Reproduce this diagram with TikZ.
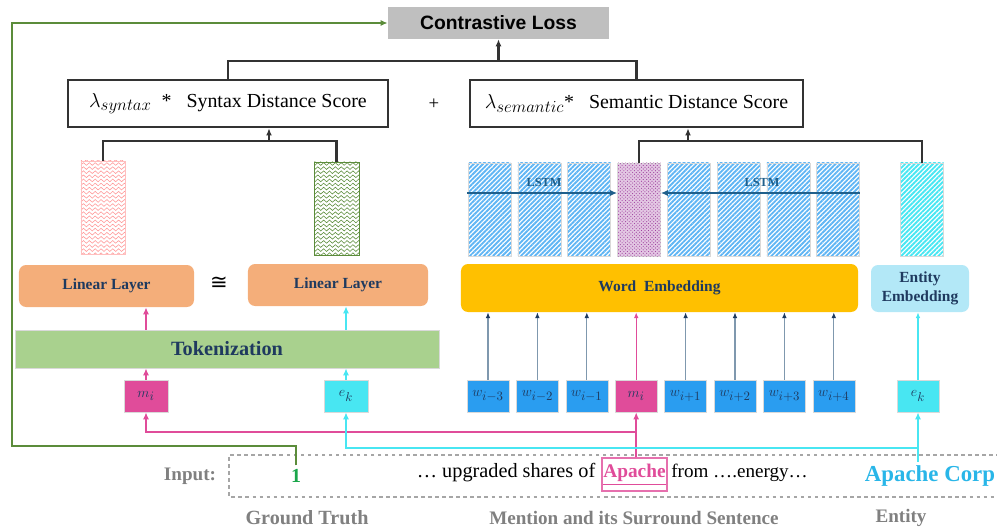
\documentclass[tikz,border=0pt]{standalone}
\usepackage{fontspec}
\setmainfont{Liberation Serif}
\newfontfamily\lossfont{Liberation Sans}
\newfontfamily\symfont{DejaVu Sans}
\DeclareMathSizes{13}{13}{10.5}{8}
\DeclareMathSizes{19}{19}{14}{11}
\usepackage{tikz}
\usetikzlibrary{positioning,arrows.meta,patterns,patterns.meta}
\definecolor{navytxt}{HTML}{1F3A5F}
\definecolor{pinkc}{HTML}{E04C9A}
\definecolor{cyanc}{HTML}{48E6F2}
\definecolor{bluec}{HTML}{2A9DF0}
\definecolor{orangec}{HTML}{F4AE7A}
\definecolor{tokc}{HTML}{A9D18E}
\definecolor{wordc}{HTML}{FFC000}
\definecolor{entc}{HTML}{B3E8F7}
\definecolor{greenl}{HTML}{5B8C3A}
\definecolor{greent}{HTML}{1AA64A}
\definecolor{grayt}{HTML}{808080}
\definecolor{corpc}{HTML}{29B6E8}
\definecolor{lstmc}{HTML}{1F5F8B}
\definecolor{thinc}{HTML}{7F98AE}
\tikzdeclarepattern{
  name=wavy,
  type=uncolored,
  bottom left={(-.1pt,-.1pt)},
  top right={(5.1pt,3.6pt)},
  tile size={(5pt,3.5pt)},
  code={\draw[line width=.5pt] (0pt,1.75pt) sin (1.25pt,2.9pt) cos (2.5pt,1.75pt) sin (3.75pt,.6pt) cos (5pt,1.75pt);}
}

\begin{document}
\begin{tikzpicture}[x=0.03cm,y=-0.03cm,
  score/.style={draw=black!80,line width=2.2pt,minimum width=9.6cm,minimum height=1.41cm,inner sep=0pt,font=\fontsize{17}{18}\selectfont},
  layer/.style={rounded corners=6pt,inner sep=0pt,minimum height=1.26cm,text=navytxt,font=\bfseries\fontsize{13.2}{16}\selectfont},
  vec/.style={inner sep=0pt,minimum width=1.29cm,minimum height=2.79cm},
  stripes/.style={pattern={Lines[angle=45,distance=2.8pt,line width=1.6pt]}},
  wordbox/.style={inner sep=0pt,minimum width=1.26cm,minimum height=0.96cm,draw=white!85!black,line width=.4pt,text=navytxt,font=\fontsize{13}{14}\selectfont},
  link/.style={draw=black!80,line width=2.2pt},
  up/.style={-{Latex[length=6pt,width=5pt]}},
  feed/.style={thinc,line width=1pt,-{Latex[length=5pt,width=4pt,color=navytxt]}},
  foot/.style={text=grayt,font=\bfseries\fontsize{16.3}{19}\selectfont}]
\useasboundingbox (0,0) rectangle (997,531);

\node[fill=black!25,minimum width=6.63cm,minimum height=0.96cm,inner sep=0pt,font=\lossfont\bfseries\fontsize{16.5}{18}\selectfont] (loss) at (498.5,23) {Contrastive Loss};
\node[score] (syn) at (228,103.5) {{\fontsize{19}{20}\selectfont$\lambda_{syntax}$}\enspace * \enspace Syntax Distance Score};
\node[score,minimum width=9.99cm] (sem) at (636.5,103.5) {{\fontsize{19}{20}\selectfont$\lambda_{semantic}$}*\enspace\ Semantic Distance Score};
\node[font=\fontsize{16}{18}\selectfont] (plus) at (434,104) {+};

\node[vec,minimum width=1.32cm,draw=red!25,pattern=wavy,pattern color=red!40] (hm) at (103,207.5) {};
\node[vec,minimum width=1.35cm,draw=greenl,pattern=wavy,pattern color=greenl] (he) at (336.5,208.5) {};
\node[layer,fill=orangec,minimum width=5.25cm] (lin1) at (106.5,286) {Linear Layer};
\node[layer,fill=orangec,minimum width=5.4cm] (lin2) at (338,285) {Linear Layer};
\node[inner sep=0pt,font=\symfont\fontsize{18}{20}\selectfont] (approx) at (219,283) {≅};
\node[fill=tokc,draw=white!85!black,inner sep=0pt,minimum width=12.72cm,minimum height=1.14cm,text=navytxt,font=\bfseries\fontsize{17.3}{19}\selectfont] (tokn) at (227,349) {Tokenization};
\node[wordbox,minimum width=1.32cm,fill=pinkc] (m1) at (146,396) {$m_i$};
\node[wordbox,minimum width=1.32cm,fill=cyanc] (e1) at (346,396) {$e_k$};

\foreach \k/\s in {0/{i-3},1/{i-2},2/{i-1},4/{i+1},5/{i+2},6/{i+3},7/{i+4}}{
  \node[wordbox,fill=bluec] (w\k) at (488+49.4*\k,396) {$w_{\s}$};
  \node[vec,draw=white!85!black,stripes,pattern color=bluec!75] (b\k) at (489.5+49.8*\k,209.5) {};
}
\node[wordbox,fill=pinkc] (w3) at (636.2,396) {$m_i$};
\node[vec,fill=violet!22,draw=white!85!black,postaction={pattern=crosshatch dots,pattern color=violet!75}] (b3) at (639,209.5) {};
\node[wordbox,fill=cyanc] (e2) at (918,396) {$e_k$};
\node[vec,draw=white!85!black,stripes,pattern color=cyanc] (be) at (922,209.5) {};
\node[layer,fill=wordc,minimum width=11.91cm,minimum height=1.44cm] (we) at (659.5,288) {Word\ \ Embedding};
\node[layer,fill=entc,minimum width=2.94cm,minimum height=1.41cm,align=center] (ee) at (920,288.5) {Entity\\Embedding};

\coordinate (lstmy) at (0,193);
\draw[lstmc,line width=1.6pt,-{Latex[length=6pt,width=5pt]}] (b0.west |- lstmy) -- (b3.west |- lstmy);
\draw[lstmc,line width=1.6pt,-{Latex[length=6pt,width=5pt]}] (b7.east |- lstmy) -- (b3.east |- lstmy);
\node[text=lstmc,font=\bfseries\fontsize{10.5}{12}\selectfont] (fwd) at (544,182) {LSTM};
\node[text=lstmc,font=\bfseries\fontsize{10.5}{12}\selectfont] (bwd) at (762,182) {LSTM};

\coordinate (jtop) at (498.5,61);
\draw[link] (syn.north) -- (syn.north |- jtop) -- (sem.north |- jtop) -- (sem.north);
\draw[link,up] (jtop) -- (loss.south);
\coordinate (jsyn) at (269,141);
\draw[link] (hm.north) -- (hm.north |- jsyn) -- (he.north |- jsyn) -- (he.north);
\draw[link,up] (jsyn) -- (jsyn |- syn.south);
\coordinate (jsem) at (688,141);
\draw[link] (b3.north) -- (b3.north |- jsem) -- (be.north |- jsem) -- (be.north);
\draw[link,up] (jsem) -- (jsem |- sem.south);

\draw[pinkc,line width=2pt,up] (m1) -- (m1 |- tokn.south);
\draw[pinkc,line width=2pt,up] (m1 |- tokn.north) -- (m1 |- lin1.south);
\draw[cyanc,line width=2pt,up] (e1) -- (e1 |- tokn.south);
\draw[cyanc,line width=2pt,up] (e1 |- tokn.north) -- (e1 |- lin2.south);
\foreach \k in {0,1,2,4,5,6,7} \draw[feed] (w\k) -- (w\k |- we.south);
\draw[pinkc,line width=1pt,-{Latex[length=5pt,width=4pt]}] (w3) -- (w3 |- we.south);
\draw[cyanc,line width=1pt,-{Latex[length=5pt,width=4pt]}] (e2) -- (e2 |- ee.south);

\draw[grayt!70,dashed,line width=1pt] (1000,455) -- (229,455) -- (229,497) -- (1000,497);
\node[foot] (inp) at (190,476) {Input:};
\node[text=greent,font=\bfseries\fontsize{17}{19}\selectfont] (gt) at (296,476) {1};
\node[draw=pinkc!80,line width=1pt,minimum width=1.95cm,minimum height=0.99cm,inner sep=0pt,text=pinkc,font=\bfseries\fontsize{16.5}{19}\selectfont] (apache) at (634.5,474.5) {\underline{Apache}};
\node[base left=5pt of apache,inner sep=0pt,font=\fontsize{17.3}{19}\selectfont] (pre) {… upgraded shares of};
\node[base right=3pt of apache,inner sep=0pt,font=\fontsize{16.3}{19}\selectfont] (post) {from ….energy…};
\node[text=corpc,font=\bfseries\fontsize{19.5}{21}\selectfont] (corp) at (930,476) {Apache Corp};

\coordinate (jpink) at (0,432);
\draw[pinkc,line width=2pt,up] (w3 |- apache.north) -- (w3.south);
\draw[pinkc,line width=2pt,up] (w3 |- jpink) -| (m1.south);
\coordinate (jcyan) at (0,448);
\draw[cyanc,line width=2pt,up] (e2 |- corp.north) -- (e2.south);
\draw[cyanc,line width=2pt,up] (e2 |- jcyan) -| (e1.south);
\coordinate (gc) at (12,446);
\draw[greenl,line width=2.2pt,up] (gt.north) -- (gt.north |- gc) -- (gc) -- (gc |- loss.west) -- (loss.west);

\node[foot,font=\bfseries\fontsize{17.2}{19}\selectfont] (gtl) at (307,518) {Ground Truth};
\node[foot] (msl) at (634,518) {Mention and its Surround Sentence};
\node[foot] (enl) at (901,518) {Entity};
\end{tikzpicture}
\end{document}
